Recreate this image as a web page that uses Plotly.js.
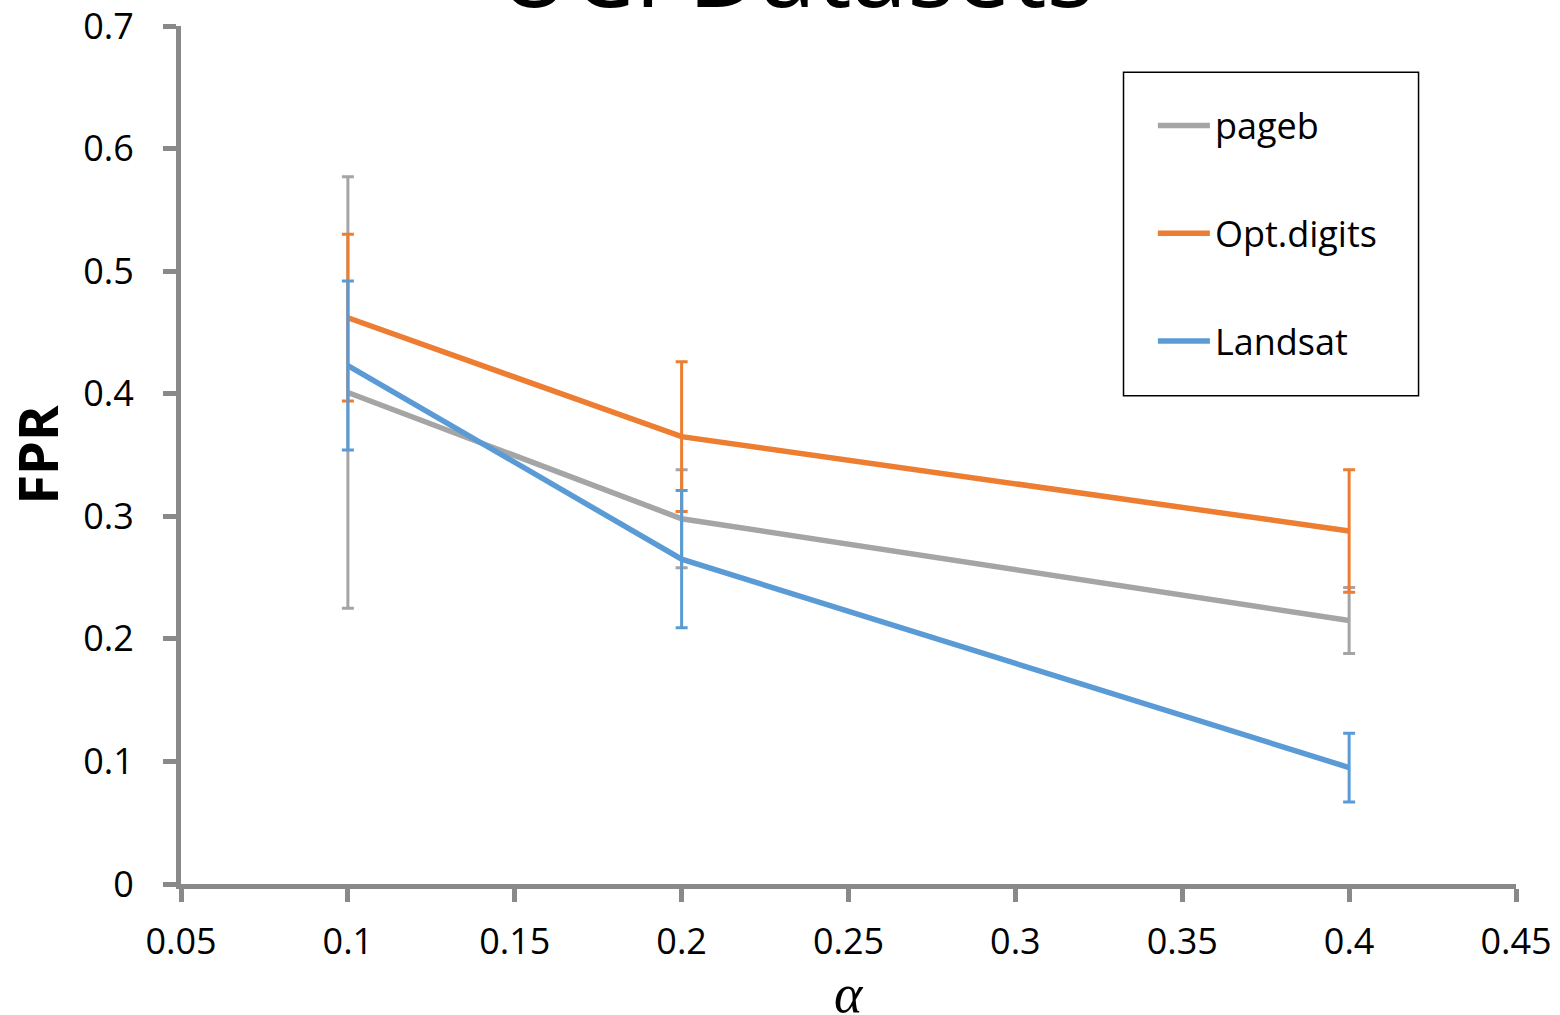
<!DOCTYPE html>
<html>
<head>
<meta charset="utf-8">
<script src="https://cdn.plot.ly/plotly-3.0.1.min.js"></script>
<style>html,body{margin:0;padding:0;background:#fff;}#chart{width:1560px;height:1015px;}</style>
</head>
<body>
<div id="chart"></div>
<script>
const alphaValues = [0.1, 0.2, 0.4];
const seriesNames = ["pageb", "Opt.digits", "Landsat"];
const pagebFPR = [0.401, 0.298, 0.215];
const pagebErr = [0.176, 0.040, 0.027];
const optdigitsFPR = [0.462, 0.365, 0.288];
const optdigitsErr = [0.068, 0.061, 0.050];
const landsatFPR = [0.423, 0.265, 0.095];
const landsatErr = [0.069, 0.056, 0.028];
const colors = ["#A5A5A5", "#ED7D31", "#5B9BD5"];

const ys = [pagebFPR, optdigitsFPR, landsatFPR];
const errs = [pagebErr, optdigitsErr, landsatErr];

const traces = seriesNames.map((name, i) => ({
  type: "scatter",
  mode: "lines",
  name: name,
  x: alphaValues,
  y: ys[i],
  line: {color: colors[i], width: 5.5},
  error_y: {type: "data", array: errs[i], visible: true, color: colors[i], thickness: 3, width: 6},
  legendgroup: "g" + i
}));

const axisColor = "#898989";
const layout = {
  width: 1560, height: 1015,
  margin: {l: 181, r: 44, t: 26, b: 131},
  paper_bgcolor: "#fff", plot_bgcolor: "#fff",
  font: {family: "Open Sans, sans-serif", color: "#000", size: 36},
  showlegend: true,
  legend: {
    x: 0.728, y: 0.919, xanchor: "left", yanchor: "top",
    bgcolor: "rgba(0,0,0,0)", borderwidth: 0,
    font: {size: 36, color: "#000"},
    traceorder: "grouped", tracegroupgap: 58,
    itemwidth: 52
  },
  xaxis: {
    range: [0.05, 0.45], dtick: 0.05, tick0: 0.05,
    showline: true, linecolor: axisColor, linewidth: 5,
    ticks: "outside", ticklen: 13, tickwidth: 5, tickcolor: axisColor,
    showgrid: false, zeroline: false,
    tickfont: {size: 36},
    ticklabelstandoff: 9
  },
  yaxis: {
    range: [0, 0.7], dtick: 0.1,
    showline: true, linecolor: axisColor, linewidth: 5,
    ticks: "outside", ticklen: 13, tickwidth: 5, tickcolor: axisColor,
    showgrid: false, zeroline: false,
    tickfont: {size: 36},
    ticklabelstandoff: 22,
    title: {text: "<b>FPR</b>", font: {size: 54}, standoff: 30}
  },
  shapes: [{
    type: "rect", xref: "paper", yref: "paper",
    x0: 0.706, x1: 0.927, y0: 0.569, y1: 0.946,
    line: {color: "#000", width: 1.5}, fillcolor: "rgba(0,0,0,0)", layer: "above"
  }],
  annotations: [{
    text: "UCI Datasets", xref: "paper", yref: "paper",
    x: 0.461, y: 0.9855, xanchor: "center", yanchor: "bottom",
    showarrow: false, font: {size: 100, color: "#000"}
  }, {
    text: "α", xref: "paper", yref: "paper",
    x: 0.5, y: -0.128, xanchor: "center", yanchor: "middle",
    showarrow: false, font: {family: "Liberation Serif, serif", size: 54, style: "italic", color: "#000"}
  }]
};

Plotly.newPlot("chart", traces, layout, {displayModeBar: false});
</script>
</body>
</html>
